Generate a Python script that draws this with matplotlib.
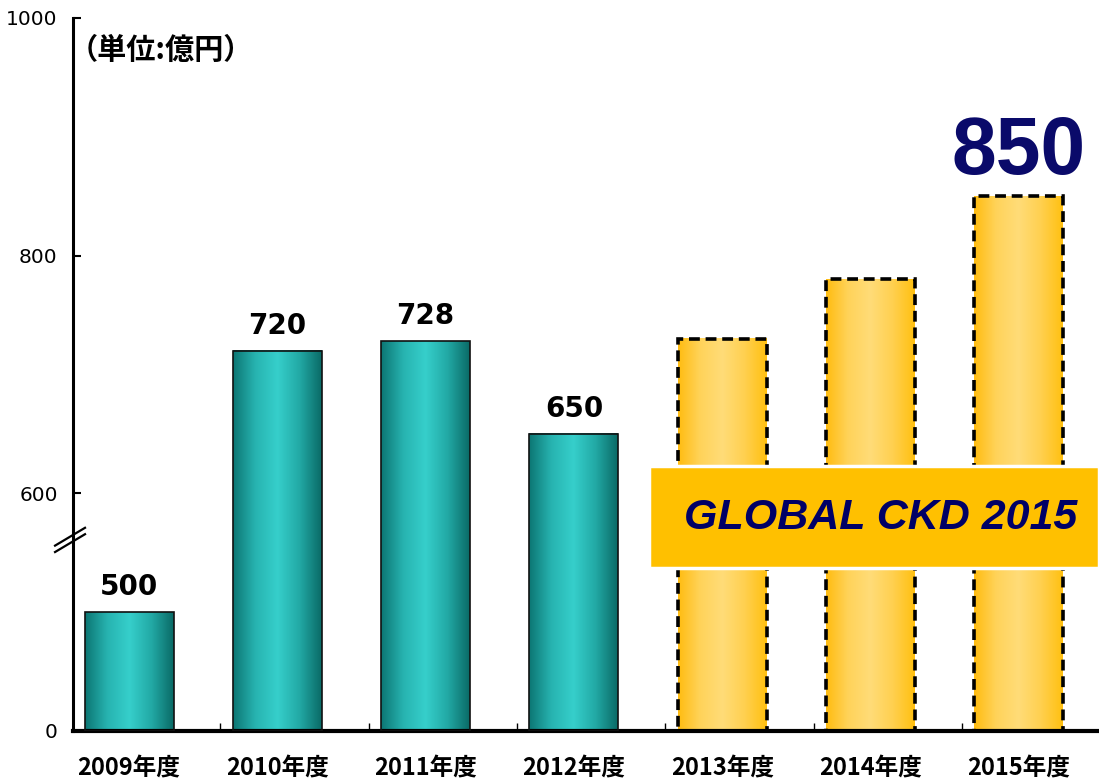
import numpy as np
import matplotlib.pyplot as plt
from matplotlib.colors import LinearSegmentedColormap
from matplotlib.patches import Rectangle

# data (lower part of the axis is broken: "0" sits at 400)
years = ["2009年度", "2010年度", "2011年度", "2012年度", "2013年度", "2014年度", "2015年度"]
values = [500, 720, 728, 650, 730, 780, 850]
shown_labels = ["500", "720", "728", "650", "", "", ""]
is_plan = [False, False, False, False, True, True, True]
y_ticks = [400, 600, 800, 1000]
y_tick_labels = ["0", "600", "800", "1000"]
base = 400

teal = LinearSegmentedColormap.from_list("teal", ["#0C7673", "#27B3B0", "#36CFCB", "#22A9A5", "#0A6A66"])
gold = LinearSegmentedColormap.from_list("gold", ["#FFBC10", "#FFD35A", "#FFDC78", "#FFD050", "#FFC010"])
grad = np.linspace(0, 1, 256).reshape(1, -1)

fig = plt.figure(figsize=(10.99, 7.8), dpi=100)
ax = fig.add_axes([73 / 1099, 1 - 731 / 780, 1 - 73 / 1099, 713 / 780])

width = 0.6
x = np.arange(len(years))
for xi, v, plan in zip(x, values, is_plan):
    cmap = gold if plan else teal
    ax.imshow(grad, cmap=cmap, extent=[xi - width / 2, xi + width / 2, base, v],
              aspect="auto", zorder=2, interpolation="bicubic")
    if plan:
        ax.bar(xi, v - base, width, bottom=base, fill=False, edgecolor="black",
               linewidth=2.6, linestyle=(0, (3, 1.6)), zorder=3)
    else:
        ax.bar(xi, v - base, width, bottom=base, fill=False, edgecolor="#111111",
               linewidth=1.2, zorder=3)

for xi, v, lab in zip(x, values, shown_labels):
    if lab:
        ax.annotate(lab, (xi, v), xytext=(0, 8), textcoords="offset points",
                    ha="center", va="bottom", fontsize=20, fontweight="bold",
                    family="DejaVu Sans")

ax.annotate(str(values[-1]), (x[-1], values[-1]), xytext=(0, 4), textcoords="offset points",
            ha="center", va="bottom", fontsize=58, fontweight="bold",
            color="#0A0A6A", family="Liberation Sans")

ax.set_xlim(-0.378, 6.54)
ax.set_ylim(base, 1000)

ax.set_yticks(y_ticks)
ax.set_yticklabels(y_tick_labels, fontsize=14.5)
ax.tick_params(axis="y", direction="in", length=6, width=1.5, pad=11)

# category labels, centred under each bar
ax.set_xticks([])
for xi, lab in zip(x, years):
    ax.text(xi, -0.052, lab, transform=ax.get_xaxis_transform(), ha="center", va="center",
            fontsize=17, fontweight="bold", family=["Noto Sans CJK JP", "DejaVu Sans"])
ax.set_xticks(x[1:] - 0.385, minor=True)
ax.tick_params(axis="x", which="minor", direction="in", length=6, width=1)

for s in ["top", "right"]:
    ax.spines[s].set_visible(False)
ax.spines["left"].set_linewidth(2.2)
ax.spines["bottom"].set_linewidth(3)

# axis break mark
for dy in (0, 0.009):
    ax.plot([-0.0175, 0.0117], [0.251 + dy, 0.276 + dy], transform=ax.transAxes,
            color="black", lw=1.6, clip_on=False, zorder=5)

ax.text(-0.004, 0.955, "（単位:億円）", transform=ax.transAxes, fontsize=21,
        fontweight="bold", family=["Noto Sans CJK JP", "DejaVu Sans"], va="center")

# banner
ax.add_patch(Rectangle((0.561, 0.229), 0.439, 0.143, transform=ax.transAxes,
                       facecolor="#FFC000", edgecolor="white", lw=2.5, zorder=6,
                       clip_on=False))
ax.text(0.787, 0.299, "GLOBAL CKD 2015", transform=ax.transAxes, fontsize=31,
        fontweight="bold", style="italic", color="#000066", family="Liberation Sans",
        ha="center", va="center", zorder=7)

fig.savefig("out.png", dpi=100)
